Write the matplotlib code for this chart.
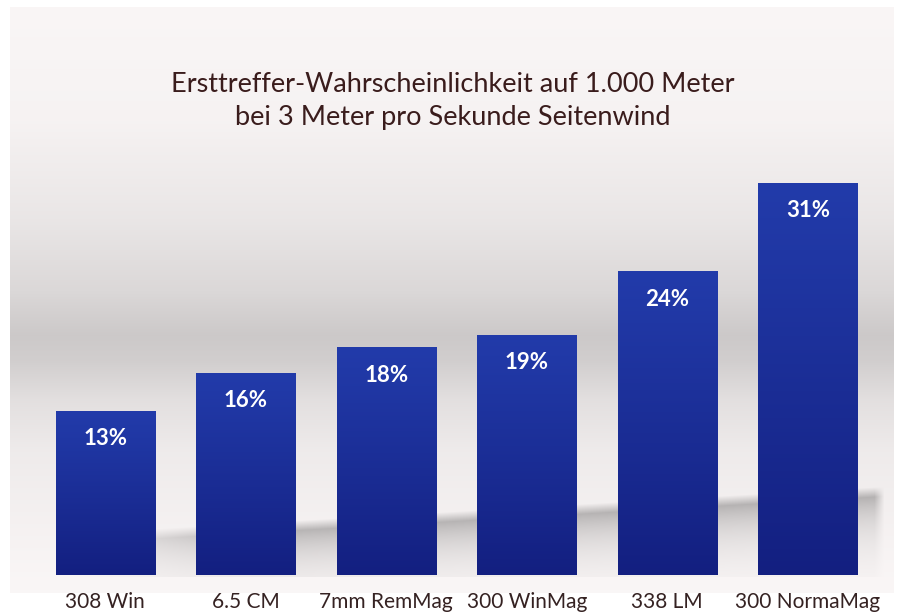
import matplotlib.pyplot as plt
import numpy as np

calibers = ["308 Win", "6.5 CM", "7mm RemMag", "300 WinMag", "338 LM", "300 NormaMag"]
hit_pct = [13, 16, 18, 19, 24, 31]
title = "Ersttreffer-Wahrscheinlichkeit auf 1.000 Meter\nbei 3 Meter pro Sekunde Seitenwind"

W, H = 911, 614
plt.rcParams["font.family"] = ["Lato", "DejaVu Sans"]

fig = plt.figure(figsize=(W / 100, H / 100), dpi=100)
fig.patch.set_facecolor("white")

# background panel: vertical grey band + soft floor shadow
bg = fig.add_axes([0, 0, 1, 1], zorder=0)
yy, xx = np.mgrid[0:H, 0:W].astype(float)
stops_y = [0, 120, 220, 290, 335, 360, 400, 450, 510, 570, 614]
stops_v = [0.98, 0.965, 0.915, 0.86, 0.80, 0.82, 0.89, 0.935, 0.955, 0.975, 0.985]
v = np.interp(yy, stops_y, stops_v)
top_edge = 528 - (xx - 160) * 0.058
d = yy - top_edge
rise = np.clip(d / 10, 0, 1)
fall = np.exp(-np.clip(d - 10, 0, None) / 28)
shadow = rise * fall * (yy < 577)
shadow *= np.clip((884 - xx) / 10, 0, 1) * np.clip((xx - 60) / 200, 0, 1)
v = v - 0.24 * shadow
rgb = np.dstack([v, v * 0.985, v * 0.985])
inside = (xx >= 10) & (xx <= 893) & (yy >= 7) & (yy <= 592)
rgb[~inside] = 1.0
bg.imshow(rgb, extent=(0, W, H, 0), aspect="auto", interpolation="bilinear")
bg.set_xlim(0, W)
bg.set_ylim(H, 0)
bg.axis("off")

# main axes
px_per = 12.65
ax = fig.add_axes([35 / W, 39 / H, 843 / W, 35 * px_per / H], zorder=1)
ax.patch.set_alpha(0)
x = np.arange(len(calibers))
bars = ax.bar(x, hit_pct, width=0.705, color="#1c2f98", edgecolor="none")

grad = np.linspace(0, 1, 256).reshape(-1, 1)
top_c = np.array([0x22, 0x3b, 0xaa]) / 255
bot_c = np.array([0x13, 0x1f, 0x80]) / 255
grad_img = top_c + (bot_c - top_c) * grad[..., None] ** 1.1
grad_img = grad_img.reshape(256, 1, 3)
for b in bars:
    x0, w, h = b.get_x(), b.get_width(), b.get_height()
    im = ax.imshow(grad_img, extent=(x0, x0 + w, 0, h), aspect="auto",
                   origin="upper", zorder=b.get_zorder() + 0.1)
    im.set_clip_path(b)

for xi, val in zip(x, hit_pct):
    ax.text(xi, val - 28 / px_per, f"{val}%", ha="center", va="center",
            color="white", fontsize=16, fontweight="bold", zorder=5)

ax.set_xlim(-0.5, 5.5)
ax.set_ylim(0, 35)
ax.set_xticks(x)
ax.set_xticklabels(calibers, fontsize=15, color="#352222")
ax.tick_params(axis="x", length=0, pad=12)
ax.set_yticks([])
for s in ax.spines.values():
    s.set_visible(False)

fig.text(0.497, 1 - 101 / H, title, ha="center", va="center", fontsize=19.5,
         color="#3a1c1c", linespacing=1.45)

fig.savefig("out.png", dpi=100)
